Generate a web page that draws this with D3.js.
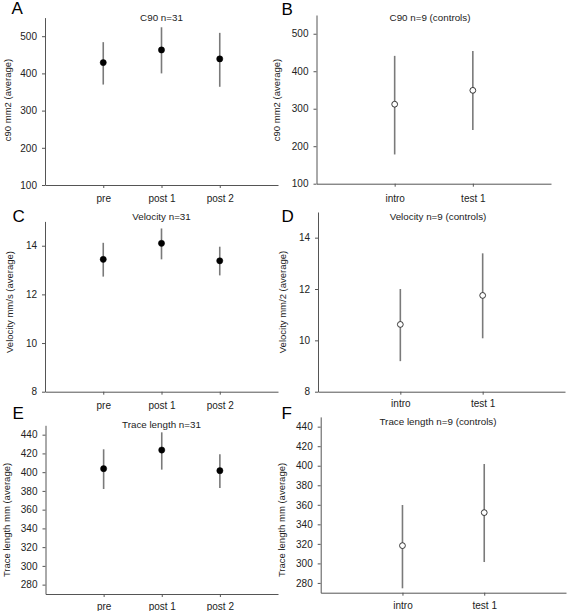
<!DOCTYPE html>
<html><head><meta charset="utf-8">
<script src="https://cdn.jsdelivr.net/npm/d3@7"></script>
<style>
html,body{margin:0;padding:0;background:#fff;}
svg{display:block;font-family:"Liberation Sans",Arial,sans-serif;}
</style></head>
<body><svg id="chart" width="567" height="611"></svg>
<script>
// ---- data ----
const catsStudy = ["pre", "post 1", "post 2"];
const catsCtrl = ["intro", "test 1"];

const c90Ticks = [100, 200, 300, 400, 500];
const velTicks = [8, 10, 12, 14];
const traceTicks = [280, 300, 320, 340, 360, 380, 400, 420, 440];

const c90Mean = [429, 463, 439];
const c90Low = [370, 400, 364];
const c90High = [484, 524, 509];

const c90CtrlMean = [312, 349];
const c90CtrlLow = [178, 243];
const c90CtrlHigh = [441, 454];

const velMean = [13.44, 14.10, 13.38];
const velLow = [12.73, 13.44, 12.78];
const velHigh = [14.12, 14.71, 13.96];

const velCtrlMean = [10.62, 11.75];
const velCtrlLow = [9.19, 10.08];
const velCtrlHigh = [12.00, 13.39];

const traceMean = [403.7, 423.6, 401.6];
const traceLow = [382, 402.7, 383];
const traceHigh = [424.4, 442.5, 419];

const traceCtrlMean = [318.2, 352];
const traceCtrlLow = [274.5, 301.4];
const traceCtrlHigh = [359.8, 401.8];

const panelLetters = ["A", "B", "C", "D", "E", "F"];
const panelTitles = ["C90 n=31", "C90 n=9 (controls)", "Velocity n=31",
  "Velocity n=9 (controls)", "Trace length n=31", "Trace length n=9 (controls)"];
const yLabels = ["c90 mm2 (average)", "c90 mm2 (average)", "Velocity mm/s (average)",
  "Velocity mm/2 (average)", "Trace length mm (average)", "Trace length mm (average)"];

// ---- layout (positions only) ----
const panels = [
  {cats: catsStudy, mean: c90Mean, low: c90Low, high: c90High, ticks: c90Ticks, yDom: [100, 550], open: false,
   x0: 45, x1: 278, y0: 185, y1: 17.6, lx: 11.5, ly: 14, tx: 161.5, ty: 20.5, ylx: 10.5, yly: 100, xlPad: 7},
  {cats: catsCtrl, mean: c90CtrlMean, low: c90CtrlLow, high: c90CtrlHigh, ticks: c90Ticks, yDom: [100, 550], open: true,
   x0: 316.5, x1: 551, y0: 183.7, y1: 15, lx: 281.5, ly: 15, tx: 430, ty: 21, ylx: 280, yly: 100, xlPad: 8},
  {cats: catsStudy, mean: velMean, low: velLow, high: velHigh, ticks: velTicks, yDom: [8, 15], open: false,
   x0: 45, x1: 278, y0: 391.7, y1: 221.4, lx: 12.5, ly: 221.5, tx: 161.5, ty: 219.5, ylx: 12.5, yly: 302, xlPad: 7},
  {cats: catsCtrl, mean: velCtrlMean, low: velCtrlLow, high: velCtrlHigh, ticks: velTicks, yDom: [8, 15], open: true,
   x0: 318, x1: 565, y0: 391.7, y1: 212, lx: 281.5, ly: 222, tx: 438, ty: 220, ylx: 285.5, yly: 302, xlPad: 5},
  {cats: catsStudy, mean: traceMean, low: traceLow, high: traceHigh, ticks: traceTicks, yDom: [270, 450], open: false,
   x0: 45.5, x1: 278, y0: 594, y1: 425.3, lx: 12.5, ly: 418.5, tx: 161.5, ty: 427.5, ylx: 9.5, yly: 520, xlPad: 6},
  {cats: catsCtrl, mean: traceCtrlMean, low: traceCtrlLow, high: traceCtrlHigh, ticks: traceTicks, yDom: [270, 450], open: true,
   x0: 320.7, x1: 566, y0: 592.7, y1: 416.9, lx: 281.5, ly: 418.5, tx: 438, ty: 425, ylx: 284.5, yly: 520, xlPad: 6}
];

const svg = d3.select("#chart");
const axisColor = "#555";
const barColor = "#7a7a7a";
const textColor = "#222";

panels.forEach((p, i) => {
  const g = svg.append("g");
  const x = d3.scaleLinear().domain([0, p.cats.length + 1]).range([p.x0, p.x1]);
  const y = d3.scaleLinear().domain(p.yDom).range([p.y0, p.y1]);
  const idx = p.cats.map((c, k) => k + 1);

  // y axis
  const ya = g.append("g").attr("transform", `translate(${p.x0},0)`)
    .call(d3.axisLeft(y).tickValues(p.ticks).tickFormat(d3.format("d"))
      .tickSize(3).tickSizeOuter(0).tickPadding(5));
  // x axis
  const xa = g.append("g").attr("transform", `translate(0,${p.y0})`)
    .call(d3.axisBottom(x).tickValues(idx).tickFormat(k => p.cats[k - 1])
      .tickSize(3).tickSizeOuter(0).tickPadding(p.xlPad));
  [ya, xa].forEach(a => {
    a.select(".domain").attr("stroke", axisColor).attr("stroke-width", 1);
    a.selectAll(".tick line").attr("stroke", axisColor);
    a.selectAll(".tick text").attr("fill", textColor).style("font-size", "10px")
      .style("font-family", '"Liberation Sans",Arial,sans-serif');
  });

  // error bars
  g.selectAll("line.err").data(idx).enter().append("line").attr("class", "err")
    .attr("x1", k => x(k)).attr("x2", k => x(k))
    .attr("y1", k => y(p.low[k - 1])).attr("y2", k => y(p.high[k - 1]))
    .attr("stroke", barColor).attr("stroke-width", 1.6);

  // points
  g.selectAll("circle.pt").data(idx).enter().append("circle").attr("class", "pt")
    .attr("cx", k => x(k)).attr("cy", k => y(p.mean[k - 1]))
    .attr("r", p.open ? 2.9 : 3.1)
    .attr("fill", p.open ? "#fff" : "#000")
    .attr("stroke", p.open ? "#222" : "#000").attr("stroke-width", p.open ? 0.9 : 0.5);

  // title
  g.append("text").attr("x", p.tx).attr("y", p.ty).attr("text-anchor", "middle")
    .style("font-size", "9.8px").attr("fill", textColor).text(panelTitles[i]);
  // panel letter
  g.append("text").attr("x", p.lx).attr("y", p.ly)
    .style("font-size", "17px").attr("fill", "#000").text(panelLetters[i]);
  // y label
  g.append("text").attr("transform", `translate(${p.ylx},${p.yly}) rotate(-90)`)
    .attr("text-anchor", "middle").style("font-size", "9.5px").attr("fill", textColor).text(yLabels[i]);
});
</script></body></html>
